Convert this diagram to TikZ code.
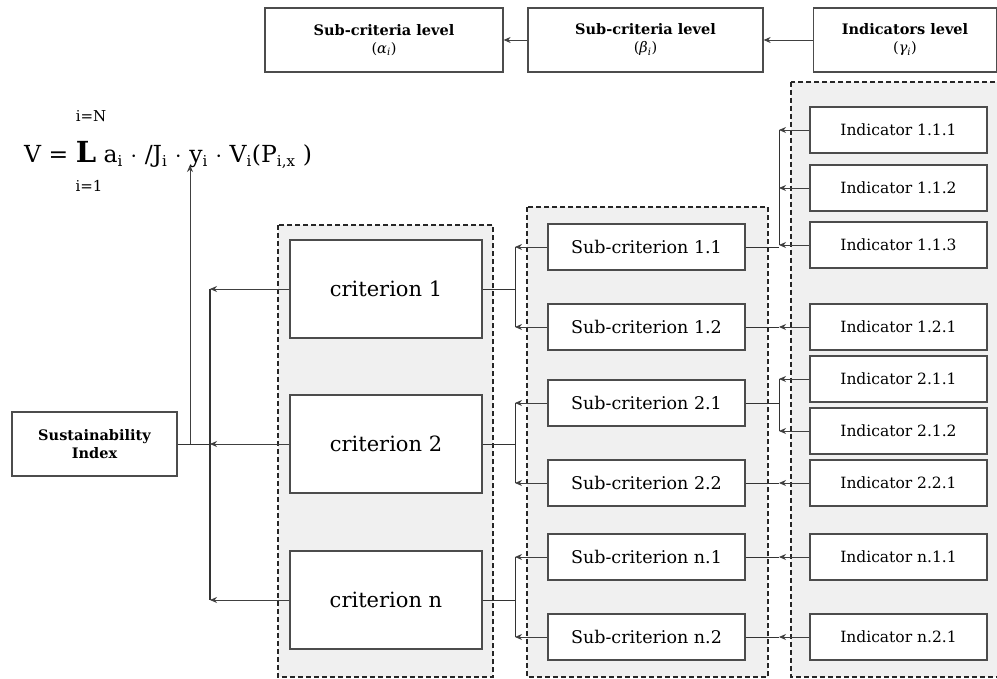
\documentclass[tikz,border=0pt]{standalone}
\usepackage{fontspec}
\setmainfont{DejaVu Serif}
\usetikzlibrary{arrows.meta}

\tikzset{
	box/.style={draw=black!70, line width=1.2pt, fill=white, inner sep=0pt, align=center},
	lvl/.style={box, minimum height=64pt, font=\bfseries\fontsize{14.5}{18}\selectfont},
	crit/.style={box, minimum width=192pt, minimum height=98pt, font=\fontsize{21}{24}\selectfont},
	sub/.style={box, minimum width=197pt, minimum height=46pt, font=\fontsize{17.5}{20}\selectfont},
	ind/.style={box, minimum width=177pt, minimum height=46pt, font=\fontsize{15.5}{18}\selectfont},
	grp/.style={draw=black!85, line width=1.5pt, dash pattern=on 5pt off 3pt, fill=black!6},
	arr/.style={-{Stealth[length=7pt,width=6pt]}, line width=0.9pt, draw=black!75},
	con/.style={line width=0.9pt, draw=black!80}
}
\newcommand{\sbi}[1]{\textsubscript{\fontsize{15}{15}\selectfont #1}}
\newcommand{\gr}[1]{{\mdseries(\textit{#1\textsubscript{i}})}}

\begin{document}
\begin{tikzpicture}[x=1pt,y=-1pt]
	\useasboundingbox (0,0) rectangle (997,679);
	\fill[white] (0,0) rectangle (997,679);

	\draw[grp] (278,225) rectangle (493,677);
	\draw[grp] (527,207) rectangle (768,677);
	\draw[grp] (791,82) rectangle (1010,677);

	\node[lvl, minimum width=238pt] (lvla) at (384,40) {Sub-criteria level\\\gr{α}};
	\node[lvl, minimum width=235pt] (lvlb) at (645.5,40) {Sub-criteria level\\\gr{β}};
	\node[lvl, minimum width=183pt] (lvlc) at (905,40) {Indicators level\\\gr{γ}};

	\node[anchor=west, inner sep=0pt, font=\fontsize{23.5}{28}\selectfont] (fml) at (24,155)
		{V = {\fontsize{29}{29}\selectfont\textbf{L}} a\sbi{i} $\cdot$ /J\sbi{i} $\cdot$ y\sbi{i} $\cdot$ V\sbi{i}(P\sbi{i,x} )};
	\node[font=\fontsize{15}{17}\selectfont] (top) at (91,116) {i=N};
	\node[font=\fontsize{15}{17}\selectfont] (bot) at (89,186) {i=1};

	\node[box, minimum width=165pt, minimum height=64pt, font=\bfseries\fontsize{14.5}{18}\selectfont] (si) at (94.5,444) {Sustainability\\Index};

	\node[crit] (crit1) at (386,289) {criterion 1};
	\node[crit] (crit2) at (386,444) {criterion 2};
	\node[crit] (critn) at (386,600) {criterion n};

	\node[sub] (sub11) at (646.5,247) {Sub-criterion 1.1};
	\node[sub] (sub12) at (646.5,327) {Sub-criterion 1.2};
	\node[sub] (sub21) at (646.5,403) {Sub-criterion 2.1};
	\node[sub] (sub22) at (646.5,483) {Sub-criterion 2.2};
	\node[sub] (subn1) at (646.5,557) {Sub-criterion n.1};
	\node[sub] (subn2) at (646.5,637) {Sub-criterion n.2};

	\node[ind] (ind111) at (898.5,130) {Indicator 1.1.1};
	\node[ind] (ind112) at (898.5,188) {Indicator 1.1.2};
	\node[ind] (ind113) at (898.5,245) {Indicator 1.1.3};
	\node[ind] (ind121) at (898.5,327) {Indicator 1.2.1};
	\node[ind] (ind211) at (898.5,379) {Indicator 2.1.1};
	\node[ind] (ind212) at (898.5,431) {Indicator 2.1.2};
	\node[ind] (ind221) at (898.5,483) {Indicator 2.2.1};
	\node[ind] (indn11) at (898.5,557) {Indicator n.1.1};
	\node[ind] (indn21) at (898.5,637) {Indicator n.2.1};

	% level arrows
	\draw[arr] (lvlc.west) -- (lvlb.east);
	\draw[arr] (lvlb.west) -- (lvla.east);

	% index and criteria
	\coordinate (b1) at (210,289);
	\coordinate (b2) at (210,444);
	\coordinate (bn) at (210,600);
	\coordinate (up) at (190,444);
	\coordinate (fx) at (190,165);
	\draw[con, line width=1.5pt] (b1) -- (bn);
	\draw[con] (si.east) -- (b2);
	\draw[arr] (up) -- (fx);
	\draw[arr] (crit1.west) -- (b1);
	\draw[arr] (crit2.west) -- (b2);
	\draw[arr] (critn.west) -- (bn);

	% criteria and sub-criteria
	\coordinate (c1) at (515,289);
	\coordinate (c2) at (515,444);
	\coordinate (cn) at (515,600);
	\draw[con] (crit1.east) -- (c1);
	\draw[con] (crit2.east) -- (c2);
	\draw[con] (critn.east) -- (cn);
	\draw[con] (sub11.west -| c1) -- (sub12.west -| c1);
	\draw[con] (sub21.west -| c2) -- (sub22.west -| c2);
	\draw[con] (subn1.west -| cn) -- (subn2.west -| cn);
	\draw[arr] (sub11.west) -- (sub11.west -| c1);
	\draw[arr] (sub12.west) -- (sub12.west -| c1);
	\draw[arr] (sub21.west) -- (sub21.west -| c2);
	\draw[arr] (sub22.west) -- (sub22.west -| c2);
	\draw[arr] (subn1.west) -- (subn1.west -| cn);
	\draw[arr] (subn2.west) -- (subn2.west -| cn);

	% sub-criteria and indicators
	\coordinate (j11) at (779,247);
	\coordinate (j21) at (779,403);
	\draw[con] (sub11.east) -- (j11);
	\draw[con] (ind111.west -| j11) -- (ind113.west -| j11);
	\draw[con] (sub12.east) -- (ind121.west -| j11);
	\draw[con] (sub21.east) -- (j21);
	\draw[con] (ind211.west -| j21) -- (ind212.west -| j21);
	\draw[con] (sub22.east) -- (ind221.west -| j21);
	\draw[con] (subn1.east) -- (indn11.west -| j21);
	\draw[con] (subn2.east) -- (indn21.west -| j21);
	\draw[arr] (ind111.west) -- (ind111.west -| j11);
	\draw[arr] (ind112.west) -- (ind112.west -| j11);
	\draw[arr] (ind113.west) -- (ind113.west -| j11);
	\draw[arr] (ind121.west) -- (ind121.west -| j11);
	\draw[arr] (ind211.west) -- (ind211.west -| j21);
	\draw[arr] (ind212.west) -- (ind212.west -| j21);
	\draw[arr] (ind221.west) -- (ind221.west -| j21);
	\draw[arr] (indn11.west) -- (indn11.west -| j21);
	\draw[arr] (indn21.west) -- (indn21.west -| j21);
\end{tikzpicture}
\end{document}
